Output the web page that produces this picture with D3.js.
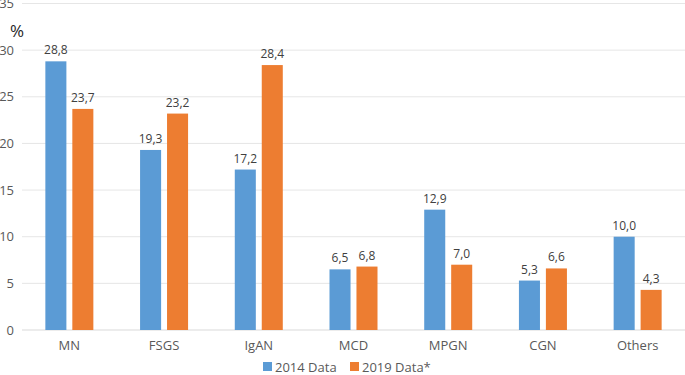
<!DOCTYPE html>
<html>
<head>
  <meta charset="utf-8">
  <title>Bar chart</title>
  <style>
    body { margin: 0; background: #fff; }
    text { font-family: "Open Sans", sans-serif; fill: #595959; }
  </style>
</head>
<body>
  <div id="viz"></div>
  <script src="https://d3js.org/d3.v7.min.js"></script>
  <script>
    const categories = ['MN', 'FSGS', 'IgAN', 'MCD', 'MPGN', 'CGN', 'Others'];
    const series = ['2014 Data', '2019 Data*'];
    const data2014 = [28.8, 19.3, 17.2, 6.5, 12.9, 5.3, 10.0];
    const data2019 = [23.7, 23.2, 28.4, 6.8, 7.0, 6.6, 4.3];
    const yTicks = [0, 5, 10, 15, 20, 25, 30, 35];
    const colors = ['#5b9bd5', '#ed7d31'];

    const W = 685, H = 375;
    const margin = { top: 3.5, right: 0, bottom: 45, left: 22 };
    const width = W - margin.left - margin.right,
      height = H - margin.top - margin.bottom;

    const svg = d3.select('#viz').append('svg')
      .attr('width', W).attr('height', H)
      .append('g')
      .attr('transform', `translate(${margin.left}, ${margin.top})`);

    const x = d3.scaleBand().domain(categories).range([0, width]);
    const x1 = d3.scaleBand().domain(series).range([-24, 24]).paddingInner(0.22);
    const y = d3.scaleLinear().domain([0, 35]).range([height, 0]);

    // gridlines
    svg.append('g')
      .selectAll('line')
      .data(yTicks)
      .join('line')
      .attr('x1', 0).attr('x2', width)
      .attr('y1', d => y(d)).attr('y2', d => y(d))
      .attr('stroke', d => d === 0 ? '#d9d9d9' : '#e6e6e6')
      .attr('stroke-width', 1);

    // y axis labels
    const yAxis = svg.append('g')
      .call(d3.axisLeft(y).tickValues(yTicks).tickSize(0).tickPadding(8));
    yAxis.select('.domain').remove();
    yAxis.selectAll('text').style('font-size', '13px').style('fill', '#595959')
      .style('font-family', '"Open Sans", sans-serif');

    // x axis labels
    const xAxis = svg.append('g')
      .attr('transform', `translate(0, ${height})`)
      .call(d3.axisBottom(x).tickSize(0).tickPadding(11));
    xAxis.select('.domain').remove();
    xAxis.selectAll('text').style('font-size', '13px').style('fill', '#595959')
      .style('font-family', '"Open Sans", sans-serif');

    // % label
    svg.append('text')
      .attr('x', -12).attr('y', 33)
      .style('font-size', '17px')
      .style('fill', '#262626')
      .text('%');

    const rows = categories.map((c, i) => ({ cat: c, vals: [data2014[i], data2019[i]] }));
    const fmt = v => v.toFixed(1).replace('.', ',');

    const groups = svg.selectAll('.grp')
      .data(rows)
      .join('g')
      .attr('class', 'grp')
      .attr('transform', d => `translate(${x(d.cat) + x.bandwidth() / 2}, 0)`);

    const bars = groups.selectAll('g.bar')
      .data(d => d.vals.map((v, j) => ({ s: series[j], v, j })))
      .join('g').attr('class', 'bar');

    bars.append('rect')
      .attr('x', d => x1(d.s))
      .attr('y', d => y(d.v))
      .attr('width', x1.bandwidth())
      .attr('height', d => height - y(d.v))
      .attr('fill', d => colors[d.j]);

    bars.append('text')
      .attr('x', d => x1(d.s) + x1.bandwidth() / 2)
      .attr('y', d => y(d.v) - 7)
      .attr('text-anchor', 'middle')
      .style('font-size', '12px')
      .style('fill', '#404040')
      .text(d => fmt(d.v));

    // legend
    const legend = d3.select('svg').append('g')
      .attr('transform', 'translate(263, 362)');
    const li = legend.selectAll('g')
      .data(series)
      .join('g')
      .attr('transform', (d, i) => `translate(${i * 87}, 0)`);
    li.append('rect').attr('width', 9).attr('height', 9)
      .attr('fill', (d, i) => colors[i]);
    li.append('text').attr('x', 12).attr('y', 9.5)
      .style('font-size', '13px')
      .text(d => d);
  </script>
</body>
</html>
